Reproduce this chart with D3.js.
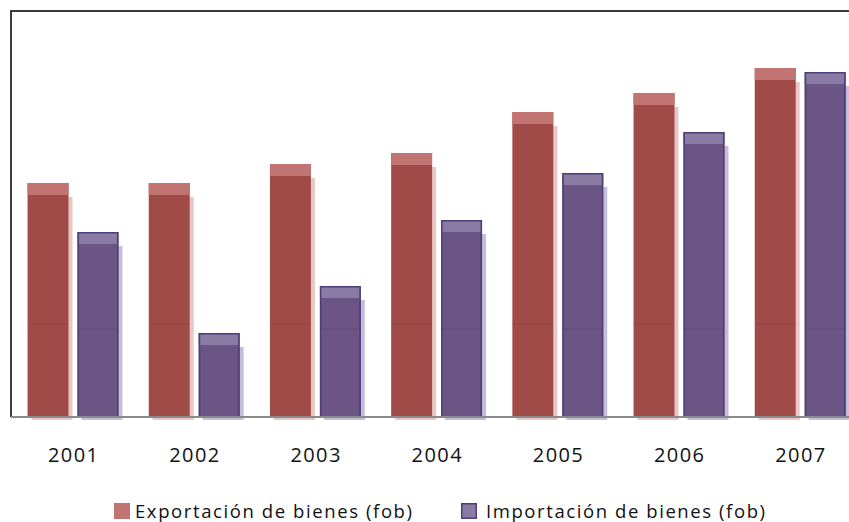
<!DOCTYPE html>
<html>
<head>
<meta charset="utf-8">
<script src="https://cdn.jsdelivr.net/npm/d3@7"></script>
<style>
  html, body { margin: 0; padding: 0; background: #fff; }
  svg { display: block; }
</style>
</head>
<body>
<svg id="chart" width="849" height="522"></svg>
<script>
const years = ["2001", "2002", "2003", "2004", "2005", "2006", "2007"];
const seriesNames = ["Exportación de bienes (fob)", "Importación de bienes (fob)"];
const exportValues = [2340, 2340, 2530, 2640, 3050, 3240, 3490];
const importValues = [1850, 840, 1310, 1970, 2440, 2850, 3450];
const yMax = 4060;
const gridValue = 930;

const svg = d3.select("#chart");
const W = 849, H = 522;
const plotLeft = 11, plotTop = 11, baseY = 417;

const x0 = d3.scaleBand().domain(years).range([12.4, 860.8]).paddingInner(0.25).paddingOuter(0.125);
const x1 = d3.scaleBand().domain([0, 1]).range([0, x0.bandwidth()]).paddingInner(0.18);
const y = d3.scaleLinear().domain([0, yMax]).range([baseY, plotTop]);

const styles = [
  { body: "#a14b49", cap: "#c27472", shadow: "rgba(205,130,128,0.45)", stroke: null, legend: "#c27472" },
  { body: "#6a5585", cap: "#8a7ba5", shadow: "rgba(150,135,185,0.55)", stroke: "#4e3d78", legend: "#8a7ba5" }
];

const data = [];
years.forEach((yr, i) => {
  data.push({ year: yr, s: 0, v: exportValues[i] });
  data.push({ year: yr, s: 1, v: importValues[i] });
});

const g = svg.append("g");
const bars = g.selectAll("g.bar").data(data).join("g").attr("class", "bar");

// shadow
bars.append("rect")
  .attr("x", d => x0(d.year) + x1(d.s) + 4)
  .attr("y", d => y(d.v) + 14)
  .attr("width", x1.bandwidth())
  .attr("height", d => baseY + 3 - (y(d.v) + 14))
  .attr("fill", d => styles[d.s].shadow);

// body
bars.append("rect")
  .attr("x", d => x0(d.year) + x1(d.s))
  .attr("y", d => y(d.v))
  .attr("width", x1.bandwidth())
  .attr("height", d => baseY - y(d.v))
  .attr("fill", d => styles[d.s].body);

// cap
bars.append("rect")
  .attr("x", d => x0(d.year) + x1(d.s))
  .attr("y", d => y(d.v))
  .attr("width", x1.bandwidth())
  .attr("height", 12)
  .attr("fill", d => styles[d.s].cap);

// faint gridline seen through bars
const gridY = d => y(gridValue) + (d.s ? 5 : 0);
bars.filter(d => y(d.v) + 14 < gridY(d))
  .append("line")
  .attr("x1", d => x0(d.year) + x1(d.s))
  .attr("x2", d => x0(d.year) + x1(d.s) + x1.bandwidth())
  .attr("y1", gridY)
  .attr("y2", gridY)
  .attr("stroke", "rgba(60,20,40,0.16)")
  .attr("stroke-width", 1);

// outline for import bars
bars.filter(d => styles[d.s].stroke)
  .append("rect")
  .attr("x", d => x0(d.year) + x1(d.s) + 0.75)
  .attr("y", d => y(d.v) + 0.75)
  .attr("width", x1.bandwidth() - 1.5)
  .attr("height", d => baseY - y(d.v) - 0.75)
  .attr("fill", "none")
  .attr("stroke", d => styles[d.s].stroke)
  .attr("stroke-width", 1.5);

// frame
svg.append("line").attr("x1", plotLeft).attr("x2", W).attr("y1", plotTop).attr("y2", plotTop)
  .attr("stroke", "#3c3c3c").attr("stroke-width", 2);
svg.append("line").attr("x1", plotLeft).attr("x2", plotLeft).attr("y1", plotTop - 1).attr("y2", baseY)
  .attr("stroke", "#3c3c3c").attr("stroke-width", 2);
svg.append("line").attr("x1", plotLeft).attr("x2", W).attr("y1", baseY).attr("y2", baseY)
  .attr("stroke", "#8a8a8a").attr("stroke-width", 2);

// x labels
svg.append("g").selectAll("text").data(years).join("text")
  .attr("x", d => x0(d) + x0.bandwidth() / 2)
  .attr("y", 462)
  .attr("text-anchor", "middle")
  .attr("font-family", "'Open Sans', 'Liberation Sans', sans-serif")
  .attr("font-size", 20)
  .attr("fill", "#111")
  .attr("textLength", 50)
  .attr("lengthAdjust", "spacing")
  .text(d => d);

// legend
const legendItems = [
  { name: seriesNames[0], sx: 114, tx: 135, len: 277 },
  { name: seriesNames[1], sx: 461, tx: 486, len: 279 }
];
const lg = svg.append("g");
legendItems.forEach((it, i) => {
  lg.append("rect")
    .attr("x", it.sx + (i ? 0.75 : 0)).attr("y", 503 + (i ? 0.75 : 0))
    .attr("width", 16 - (i ? 1.5 : 0)).attr("height", 16 - (i ? 1.5 : 0))
    .attr("fill", styles[i].legend)
    .attr("stroke", styles[i].stroke || "none")
    .attr("stroke-width", 1.5);
  lg.append("text")
    .attr("x", it.tx).attr("y", 518)
    .attr("font-family", "'Open Sans', 'Liberation Sans', sans-serif")
    .attr("font-size", 18.5)
    .attr("fill", "#111")
    .attr("textLength", it.len)
    .attr("lengthAdjust", "spacing")
    .text(it.name);
});
</script>
</body>
</html>
